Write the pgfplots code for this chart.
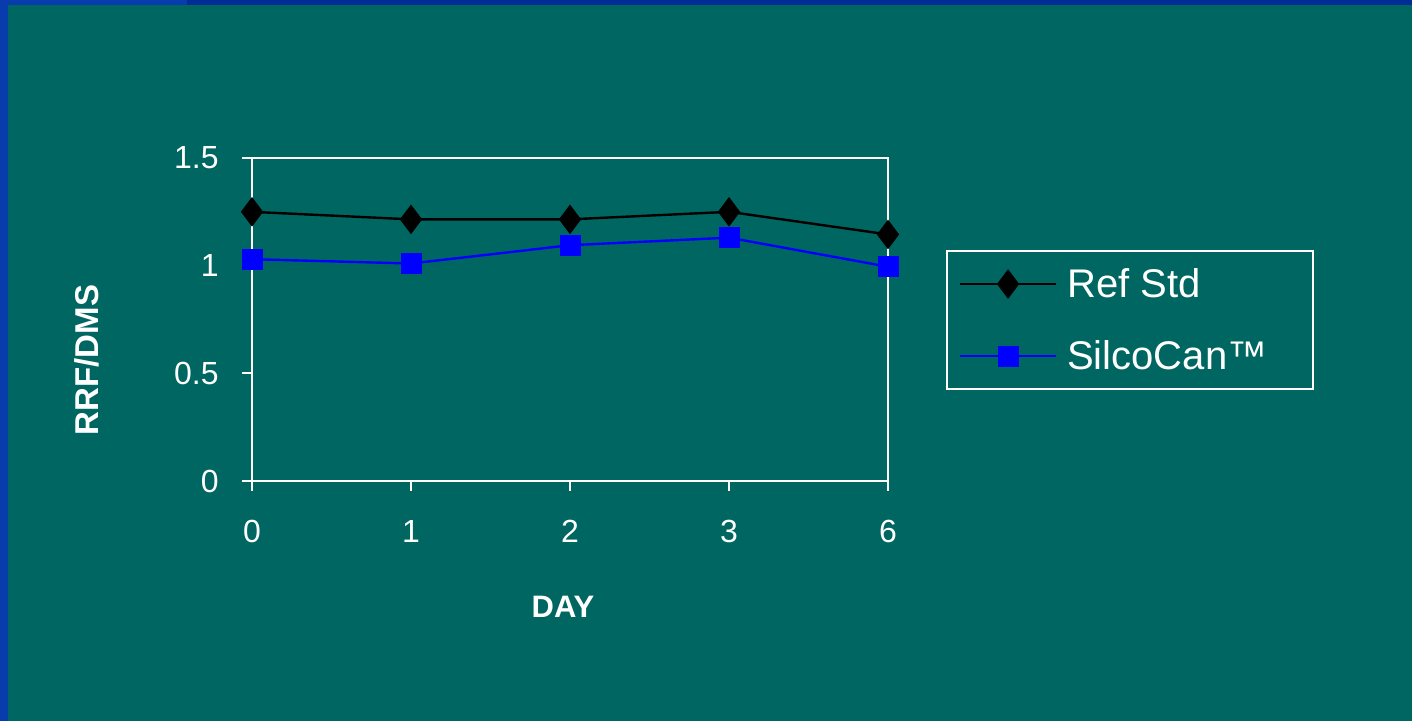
\documentclass[border=0pt]{standalone}
\usepackage{pgfplots}
\pgfplotsset{compat=1.18}
\usepackage{fontspec}
\setmainfont{Liberation Sans}
\definecolor{bg}{RGB}{0,102,98}
\definecolor{bord}{RGB}{8,60,172}
\definecolor{bordd}{RGB}{0,44,150}
\definecolor{mblue}{RGB}{0,0,255}
\begin{document}
\begin{tikzpicture}
\fill[bg] (0,0) rectangle (706pt,360.5pt);
\fill[bord] (0,0) rectangle (4pt,360.5pt);
\fill[bord] (0,358pt) rectangle (93.5pt,360.5pt);
\fill[bordd] (93.5pt,358pt) rectangle (706pt,360.5pt);
\begin{axis}[
  at={(126pt,120pt)}, anchor=south west,
  scale only axis, width=318pt, height=161.5pt,
  xmin=0, xmax=4, ymin=0, ymax=1.5,
  clip=false,
  xtick={0,1,2,3,4}, xticklabels={0,1,2,3,6},
  ytick={0,0.5,1,1.5}, yticklabels={0,0.5,1,1.5},
  tick pos=left, tick align=outside, major tick length=5pt,
  axis line style={white, line width=1pt},
  every tick/.style={white, line width=1pt},
  tick label style={white, font=\fontsize{16}{19}\selectfont},
  yticklabel style={anchor=east, inner sep=0pt, xshift=-11.5pt},
  xticklabel style={anchor=north, inner sep=0pt, yshift=-14.5pt},
  xlabel={DAY}, ylabel={RRF/DMS},
  xlabel style={at={(axis description cs:0.489,-0.390)}, anchor=center, white, font=\bfseries\fontsize{15.5}{18}\selectfont},
  ylabel style={at={(axis description cs:-0.259,0.375)}, anchor=center, white, font=\bfseries\fontsize{16.5}{19}\selectfont},
  legend style={at={(axis description cs:1.091,0.715)}, anchor=north west,
    draw=white, line width=1pt, fill=none, text=white,
    font=\fontsize{20}{23}\selectfont, row sep=16pt,
    inner xsep=6pt, inner ysep=6.5pt},
  legend cell align=left,
  legend image code/.code={\draw[mark repeat=2, mark phase=2, #1] plot coordinates {(0pt,0pt) (24pt,0pt) (48pt,0pt)};},
]
\addplot[black, line width=1.2pt, mark=diamond*, mark size=7pt, mark options={solid, line width=0.5pt}]
  coordinates {(0,1.25) (1,1.215) (2,1.215) (3,1.25) (4,1.145)};
\addlegendentry{\hspace{3pt}\makebox[115pt][l]{Ref Std}}
\addplot[mblue, line width=1.2pt, mark=square*, mark size=5pt, mark options={solid, line width=0.5pt}]
  coordinates {(0,1.03) (1,1.01) (2,1.095) (3,1.13) (4,0.995)};
\addlegendentry{\hspace{3pt}\makebox[115pt][l]{SilcoCan™}}
\end{axis}
\end{tikzpicture}
\end{document}
